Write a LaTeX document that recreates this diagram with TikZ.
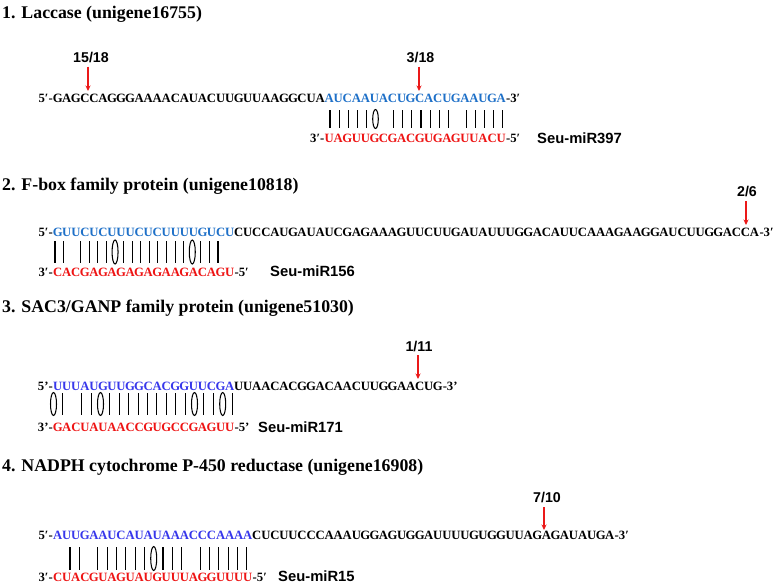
\documentclass[tikz,border=0pt]{standalone}
\usepackage{fontspec}
\setmainfont{Liberation Serif}
\newfontfamily\labfont{Liberation Sans}
\usetikzlibrary{arrows.meta}
\definecolor{tblueA}{RGB}{30,112,200}
\definecolor{tblueB}{RGB}{55,55,235}
\definecolor{mred}{RGB}{238,20,20}
\definecolor{arrred}{RGB}{235,25,25}
\newdimen\cw \cw=9.05pt
\def\seqloop#1{\ifx#1\relax\else\makebox[\cw][c]{#1}\expandafter\seqloop\fi}
\newcommand\nts[1]{\seqloop#1\relax}
\tikzset{
  ttl/.style={anchor=base west, inner sep=0, font=\fontsize{17.8}{20}\selectfont\bfseries},
  sq/.style={inner sep=0, font=\fontsize{12.7}{14}\selectfont\bfseries},
  lbl/.style={inner sep=0, anchor=base, font=\labfont\fontsize{14.2}{16}\selectfont\bfseries},
  mir/.style={inner sep=0, anchor=west, font=\labfont\fontsize{14.8}{17}\selectfont\bfseries},
  cut/.style={draw=arrred, line width=1.1pt, -{Stealth[length=5.5pt,width=5pt]}},
  pr/.style={draw=black, line width=1.05pt},
}
\begin{document}
\begin{tikzpicture}[x=1pt,y=-1pt]
\useasboundingbox (0,0) rectangle (778,584);
\fill[white] (0,0) rectangle (778,584);

% ---------- Panel 1
\node[ttl] (h1) at (2,18) {1. Laccase (unigene16755)};
\node[sq, anchor=base west] (t1) at (53,102) {\nts{GAGCCAGGGAAAACAUACUUGUUAAGGCUA}\textcolor{tblueA}{\nts{AUCAAUACUGCACUGAAUGA}}};
\node[sq, anchor=base east] (t1a) at (t1.base west) {5′-};
\node[sq, anchor=base west] (t1b) at (t1.base east) {-3′};
\node[sq, anchor=base west] (m1) at (324.5,142) {\textcolor{mred}{\nts{UAGUUGCGACGUGAGUUACU}}};
\node[sq, anchor=base east] (m1a) at (m1.base west) {3′-};
\node[sq, anchor=base west] (m1b) at (m1.base east) {-5′};
\node[mir] (n1) at (537,138.5) {Seu-miR397};
\node[lbl] (c1) at (91,62.5) {15/18};
\coordinate (c1s) at (88,66.5); \coordinate (c1e) at (88,91);
\draw[cut] (c1s) -- (c1e);
\node[lbl] (d1) at (420.5,62.5) {3/18};
\coordinate (d1s) at (419,66.5); \coordinate (d1e) at (419,91);
\draw[cut] (d1s) -- (d1e);
\foreach \i in {1,...,5,8,9,...,14,16,17,...,20} \draw[pr] ({330+(\i-1)*9.1},110) -- ++(0,18);
\foreach \i in {6} \draw[pr] ({330+(\i-1)*9.1},119) ellipse [x radius=2.8pt, y radius=9.5pt];

% ---------- Panel 2
\node[ttl] (h2) at (2,190) {2. F-box family protein (unigene10818)};
\node[sq, anchor=base west] (t2) at (53,236) {\textcolor{tblueA}{\nts{GUUCUCUUUCUCUUUUGUCU}}\nts{CUCCAUGAUAUCGAGAAAGUUCUUGAUAUUUGGACAUUCAAAGAAGGAUCUUGGACCA}};
\node[sq, anchor=base east] (t2a) at (t2.base west) {5′-};
\node[sq, anchor=base west] (t2b) at (t2.base east) {-3′};
\node[sq, anchor=base west] (m2) at (53,276) {\textcolor{mred}{\nts{CACGAGAGAGAGAAGACAGU}}};
\node[sq, anchor=base east] (m2a) at (m2.base west) {3′-};
\node[sq, anchor=base west] (m2b) at (m2.base east) {-5′};
\node[mir] (n2) at (270,271) {Seu-miR156};
\node[lbl] (c2) at (747,196.5) {2/6};
\coordinate (c2s) at (746,201); \coordinate (c2e) at (746,225);
\draw[cut] (c2s) -- (c2e);
\foreach \i in {1,2,4,5,6,7,9,10,...,16,18,19,20} \draw[pr] ({55+(\i-1)*8.58},241) -- ++(0,22);
\foreach \i in {8,17} \draw[pr] ({55+(\i-1)*8.58},252) ellipse [x radius=3pt, y radius=12pt];

% ---------- Panel 3
\node[ttl] (h3) at (2,312) {3. SAC3/GANP family protein (unigene51030)};
\node[sq, anchor=base west] (t3) at (53,390) {\textcolor{tblueB}{\nts{UUUAUGUUGGCACGGUUCGA}}\nts{UUAACACGGACAACUUGGAACUG}};
\node[sq, anchor=base east] (t3a) at (t3.base west) {5’-};
\node[sq, anchor=base west] (t3b) at (t3.base east) {-3’};
\node[sq, anchor=base west] (m3) at (53,431) {\textcolor{mred}{\nts{GACUAUAACCGUGCCGAGUU}}};
\node[sq, anchor=base east] (m3a) at (m3.base west) {3’-};
\node[sq, anchor=base west] (m3b) at (m3.base east) {-5’};
\node[mir] (n3) at (258,427.5) {Seu-miR171};
\node[lbl] (c3) at (419,351) {1/11};
\coordinate (c3s) at (418,355); \coordinate (c3e) at (418,379);
\draw[cut] (c3s) -- (c3e);
\foreach \i in {2,4,5,7,8,...,15,17,18,20} \draw[pr] ({53.5+(\i-1)*9.4},393) -- ++(0,22);
\foreach \i in {1,6,16,19} \draw[pr] ({53.5+(\i-1)*9.4},404) ellipse [x radius=3pt, y radius=11.5pt];

% ---------- Panel 4
\node[ttl] (h4) at (2,471) {4. NADPH cytochrome P-450 reductase (unigene16908)};
\node[sq, anchor=base west] (t4) at (53,539.5) {\textcolor{tblueB}{\nts{AUUGAAUCAUAUAAACCCAAAA}}\nts{CUCUUCCCAAAUGGAGUGGAUUUUGUGGUUAGAGAUAUGA}};
\node[sq, anchor=base east] (t4a) at (t4.base west) {5′-};
\node[sq, anchor=base west] (t4b) at (t4.base east) {-3′};
\node[sq, anchor=base west] (m4) at (53,581.5) {\textcolor{mred}{\nts{CUACGUAGUAUGUUUAGGUUUU}}};
\node[sq, anchor=base east] (m4a) at (m4.base west) {3′-};
\node[sq, anchor=base west] (m4b) at (m4.base east) {-5′};
\node[mir] (n4) at (278,576) {Seu-miR15};
\node[lbl] (c4) at (547,502.5) {7/10};
\coordinate (c4s) at (544,507); \coordinate (c4e) at (544,530);
\draw[cut] (c4s) -- (c4e);
\foreach \i in {3,4,6,7,...,11,13,14,15,17,18,...,22} \draw[pr] ({51.4+(\i-1)*9.3},547) -- ++(0,23);
\foreach \i in {12} \draw[pr] ({51.4+(\i-1)*9.3},558.5) ellipse [x radius=3pt, y radius=12pt];
\end{tikzpicture}
\end{document}
